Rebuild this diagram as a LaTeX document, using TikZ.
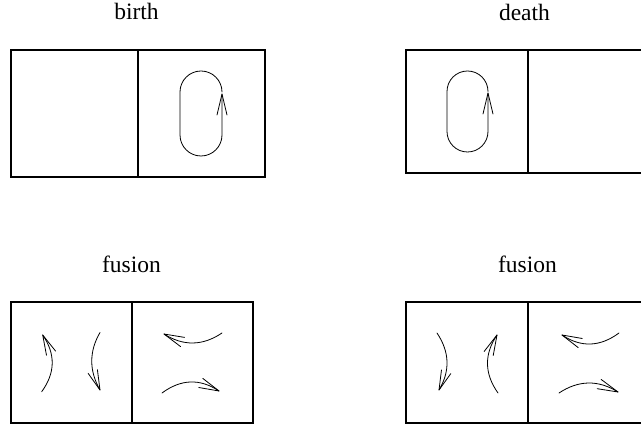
\documentclass[tikz,border=0pt]{standalone}
\usepackage{fontspec}
\setmainfont{Liberation Serif}
\begin{document}
\begin{tikzpicture}[x=1pt,y=-1pt,
  lab/.style={anchor=base,inner sep=0pt,font=\fontsize{23.5}{28}\selectfont},
  frame/.style={line width=2pt},
  curve/.style={line width=0.8pt,line join=round,line cap=round}]
\useasboundingbox (0,0) rectangle (641,430);
\clip (0,0) rectangle (641,430);
% labels
\node[lab] (tbirth) at (136.5,20) {birth};
\node[lab] (tdeath) at (524.5,20.5) {death};
\node[lab] (tfus1) at (131.5,272.5) {fusion};
\node[lab] (tfus2) at (527.5,273) {fusion};
% birth
\draw[frame] (11,50) rectangle (265,177);
\draw[frame] (138,50) -- (138,177);
\draw[curve,rounded corners=21pt] (222,92) -- (222,71) -- (180,71) -- (180,156) -- (222,156) -- (222,94);
\draw[curve] (217,115) -- (222,94) -- (227,115);
% death
\draw[frame] (406,50) rectangle (660,173);
\draw[frame] (528,50) -- (528,173);
\draw[curve,rounded corners=20.5pt] (488,91.5) -- (488,71) -- (447,71) -- (447,152) -- (488,152) -- (488,93);
\draw[curve] (483,114) -- (488,93) -- (493,114);
% fusion left
\draw[frame] (11,302) rectangle (253,423);
\draw[frame] (132,302) -- (132,423);
\draw[curve] (41.7,391.7) .. controls (55.4,372.9) and (55.7,354) .. (42.7,335);
\draw[curve] (55.6,351.1) -- (42.7,335) -- (46.5,355.3);
\draw[curve] (100,332.5) .. controls (89,351.5) and (89,370.7) .. (100,390);
\draw[curve] (97.4,369.7) -- (100,390) -- (88.1,373.3);
\draw[curve] (222,333) .. controls (202.7,346) and (183.3,346.3) .. (164,334);
\draw[curve] (184.5,337.4) -- (164,334) -- (180.6,346.6);
\draw[curve] (162,393) .. controls (181,379) and (200,378.3) .. (219,391);
\draw[curve] (202.8,378.4) -- (219,391) -- (198.8,387.5);
% fusion right
\draw[frame] (406,302) rectangle (660,423);
\draw[frame] (528,302) -- (528,423);
\draw[curve] (437,333) .. controls (449.7,352) and (450.3,371) .. (439,390);
\draw[curve] (450.8,373.6) -- (439,390) -- (441.5,369.9);
\draw[curve] (498,393) .. controls (484.3,373.7) and (484,354.3) .. (497,335);
\draw[curve] (493.2,355.6) -- (497,335) -- (484.1,351.5);
\draw[curve] (619,333) .. controls (600,347) and (581,347.7) .. (562,335);
\draw[curve] (582.3,338.5) -- (562,335) -- (578.2,347.6);
\draw[curve] (559,393) .. controls (578.7,380) and (598.3,379.7) .. (618,392);
\draw[curve] (601.1,379.4) -- (618,392) -- (597.2,388.7);
\end{tikzpicture}
\end{document}
